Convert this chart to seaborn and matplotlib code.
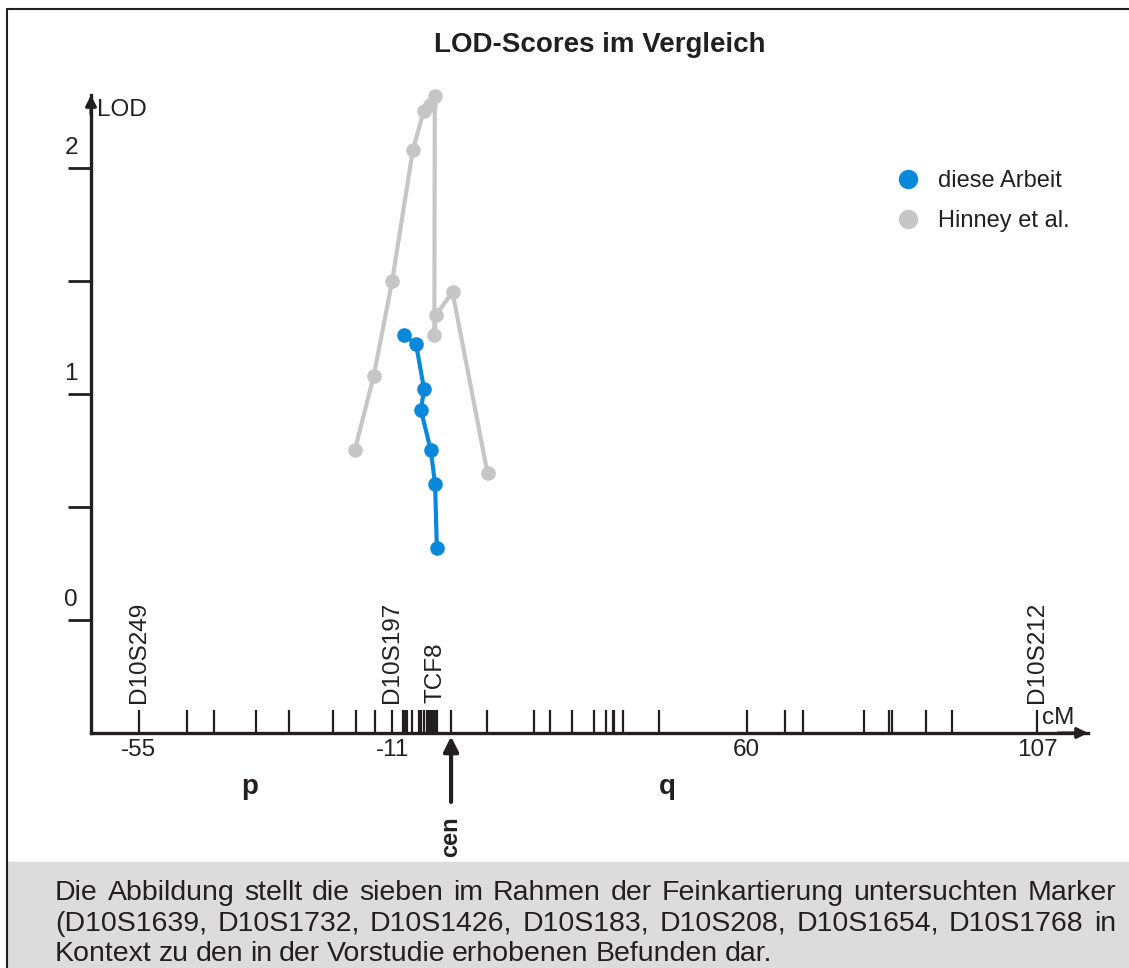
import numpy as np
import pandas as pd
import matplotlib
matplotlib.use("Agg")
import matplotlib.pyplot as plt
import seaborn as sns
from matplotlib.lines import Line2D
from matplotlib.patches import Rectangle

sns.set_theme(style="white")
plt.rcParams['font.family'] = ['Liberation Sans', 'DejaVu Sans']

# --------------------------------------------
# Data (positions in cM, LOD scores)
# --------------------------------------------
hinney_cm = [-17.5, -14.2, -11.0, -6.85, -4.7, -3.45, -2.45, -2.55, -2.25, 1.1, 8.1]
hinney_lod = [0.75, 1.08, 1.50, 2.08, 2.25, 2.28, 2.32, 1.26, 1.35, 1.45, 0.65]

arbeit_cm = [-8.65, -6.2, -4.6, -5.25, -3.25, -2.4, -2.05]
arbeit_lod = [1.26, 1.22, 1.02, 0.93, 0.75, 0.60, 0.32]

major_cm = [-55, -11, 60, 107]
major_labels = ['-55', '-11', '60', '107']
marker_cm = [-46.7, -41.9, -34.7, -28.9, -21.3, -17.3, -14.0,
             -8.8, -8.4, -8.0, -7.1, -5.6, -5.2, -4.7, -4.0, -3.6, -3.2, -2.8, -2.4, -2.0,
             0.8, 7.9, 17.4, 20.6, 25.1, 29.4, 31.8, 33.2, 33.5, 35.3, 42.5,
             66.2, 69.1, 78.9, 83.0, 83.5, 89.0, 93.2]
named_markers = ['D10S249', 'D10S197', 'TCF8', 'D10S212']
named_cm = [-55, -11, -2.4, 107]
centromere_cm = 0.8

caption = [
    "Die Abbildung stellt die sieben im Rahmen der Feinkartierung untersuchten Marker",
    "(D10S1639, D10S1732, D10S1426, D10S183, D10S208, D10S1654, D10S1768 in",
    "Kontext zu den in der Vorstudie erhobenen Befunden dar.",
]

df = pd.concat([
    pd.DataFrame({'cM': hinney_cm, 'LOD': hinney_lod, 'Serie': 'Hinney et al.'}),
    pd.DataFrame({'cM': arbeit_cm, 'LOD': arbeit_lod, 'Serie': 'diese Arbeit'}),
], ignore_index=True)

blue = '#0a88db'
grey = '#c6c6c6'
dark = '#231f20'

W, H = 1129, 968
fig = plt.figure(figsize=(W / 100, H / 100), dpi=100)
ax = fig.add_axes([91 / W, (H - 733) / H, (1088 - 91) / W, (733 - 95) / H])
ax.patch.set_alpha(0)

# the drawn map is not linear in cM, so use a piecewise scale
cm_anchor = np.array([-100, -55, -11, 60, 107, 150])
px_anchor = np.array([-120.1, 139, 392.3, 746.7, 1037.3, 1303.2])
ax.set_xscale('function', functions=(lambda x: np.interp(x, cm_anchor, px_anchor),
                                     lambda x: np.interp(x, px_anchor, cm_anchor)))

sns.lineplot(data=df, x='cM', y='LOD', hue='Serie', hue_order=['Hinney et al.', 'diese Arbeit'],
             palette={'Hinney et al.': grey, 'diese Arbeit': blue}, sort=False, estimator=None,
             marker='o', markersize=10.5, markeredgewidth=0, linewidth=3, legend=False, ax=ax)
for ln in ax.lines:
    ln.set_clip_on(False)

ax.set_xlim(-63.3, 115.2)
ax.set_ylim(-0.5, 2.323)
ax.set_xlabel('')
ax.set_ylabel('')

ax.set_xticks(major_cm, labels=major_labels)
ax.set_xticks(marker_cm, minor=True)
ax.tick_params(axis='x', which='both', direction='in', length=16.5, width=1.6, bottom=True,
               color=dark, labelsize=17.5, labelcolor=dark, pad=4)
ax.set_yticks([0, 0.5, 1, 1.5, 2])
ax.tick_params(axis='y', direction='out', length=16.5, width=2, left=True, color=dark, labelleft=False)
for v in [0, 1, 2]:
    ax.text(-0.02, v + 0.09, str(v), transform=ax.get_yaxis_transform(), ha='center', va='center',
            fontsize=17.5, color=dark)

ax.spines[['top', 'right']].set_visible(False)
for s in ['left', 'bottom']:
    ax.spines[s].set_linewidth(2.4)
    ax.spines[s].set_color(dark)

arrow = dict(arrowstyle='-|>', color=dark, lw=2.2, mutation_scale=16, shrinkA=0, shrinkB=0)
ax.annotate('', xy=(0, 1), xytext=(0, 0.97), xycoords='axes fraction', arrowprops=arrow)
ax.annotate('', xy=(1, 0), xytext=(0.97, 0), xycoords='axes fraction', arrowprops=arrow)

ax.text(0.006, 2.257, 'LOD', transform=ax.get_yaxis_transform(), ha='left', va='center',
        fontsize=17.5, color=dark)
ax.text(107.7, -0.434, 'cM', ha='left', va='center', fontsize=17.5, color=dark)

for name, pos in zip(named_markers, named_cm):
    ax.text(pos, -0.367, name, rotation=90, ha='center', va='bottom', fontsize=17.5, color=dark)

# centromere arrow and chromosome arms
ax.annotate('', xy=(centromere_cm, -0.515), xytext=(centromere_cm, -0.805), annotation_clip=False,
            arrowprops=dict(arrowstyle='-|>', color=dark, lw=3, mutation_scale=22, shrinkA=0, shrinkB=0))
ax.text(centromere_cm, -0.958, 'cen', rotation=90, ha='center', va='center', fontsize=17,
        fontweight='bold', color=dark, clip_on=False)
ax.text(-35.7, -0.738, 'p', ha='center', va='center', fontsize=20, fontweight='bold', color=dark, clip_on=False)
ax.text(44.2, -0.738, 'q', ha='center', va='center', fontsize=20, fontweight='bold', color=dark, clip_on=False)

handles = [Line2D([], [], marker='o', ls='', color=blue, markersize=14, markeredgewidth=0),
           Line2D([], [], marker='o', ls='', color=grey, markersize=14, markeredgewidth=0)]
ax.legend(handles, ['diese Arbeit', 'Hinney et al.'], loc='upper left',
          bbox_to_anchor=(896 / W, (H - 170) / H), bbox_transform=fig.transFigure, frameon=False,
          fontsize=17, handlelength=1.0, handletextpad=0.8, labelspacing=0.78, borderpad=0,
          borderaxespad=0, labelcolor=dark)

fig.text(600 / W, (H - 45) / H, 'LOD-Scores im Vergleich', ha='center', va='center',
         fontsize=20, fontweight='bold', color=dark)

# frame and caption box
fig.add_artist(Rectangle((8 / W, 0), 1 - 8 / W, (H - 862) / H, color='#dcdcdc', zorder=0))
fig.add_artist(Line2D([7 / W, 7 / W], [0, (H - 9) / H], color=dark, lw=1.5))
fig.add_artist(Line2D([7 / W, 1], [(H - 9) / H, (H - 9) / H], color=dark, lw=1.5))

renderer = fig.canvas.get_renderer()


def put_line(text, base_y, x0, x1):
    words = text.split(' ')
    items = [fig.text(0, (H - base_y) / H, w, fontsize=20.5, ha='left', va='baseline', color=dark)
             for w in words]
    widths = [t.get_window_extent(renderer).width for t in items]
    gap = (x1 - x0 - sum(widths)) / (len(words) - 1)
    x = x0
    for t, w in zip(items, widths):
        t.set_x(x / W)
        x += w + gap


put_line(caption[0], 900, 55, 1116)
put_line(caption[1], 931, 55, 1116)
put_line(caption[2], 961, 55, 772)

fig.savefig('out.png', dpi=100)
